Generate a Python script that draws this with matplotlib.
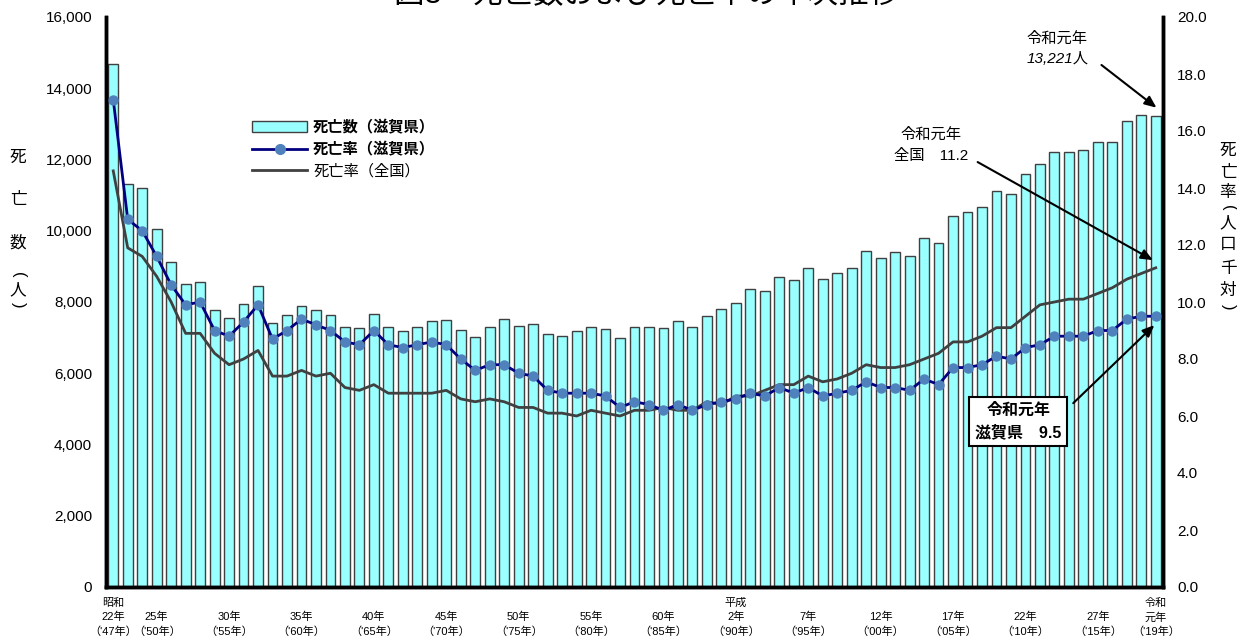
import numpy as np
import matplotlib.pyplot as plt
from matplotlib.patches import Patch
from matplotlib.lines import Line2D
from matplotlib.ticker import FuncFormatter

plt.rcParams['font.family'] = ['Liberation Sans', 'Noto Sans CJK JP']

years = np.arange(1947, 2020)

# deaths in Shiga (persons)
deaths = [14680, 11310, 11190, 10040, 9120, 8500, 8560, 7770, 7560, 7940,
          8450, 7400, 7630, 7900, 7770, 7640, 7310, 7270, 7650, 7290,
          7200, 7290, 7460, 7490, 7210, 7010, 7290, 7530, 7320, 7370,
          7090, 7040, 7190, 7290, 7250, 6980, 7290, 7310, 7260, 7480,
          7300, 7620, 7790, 7960, 8360, 8300, 8690, 8610, 8960, 8650,
          8800, 8960, 9430, 9240, 9390, 9280, 9810, 9670, 10420, 10520,
          10660, 11110, 11040, 11600, 11880, 12220, 12220, 12260, 12500, 12500,
          13080, 13240, 13221]

# death rate per 1,000 (Shiga)
rate_shiga = [17.1, 12.9, 12.5, 11.6, 10.6, 9.9, 10.0, 9.0, 8.8, 9.3,
              9.9, 8.7, 9.0, 9.4, 9.2, 9.0, 8.6, 8.5, 9.0, 8.5,
              8.4, 8.5, 8.6, 8.5, 8.0, 7.6, 7.8, 7.8, 7.5, 7.4,
              6.9, 6.8, 6.8, 6.8, 6.7, 6.3, 6.5, 6.4, 6.2, 6.4,
              6.2, 6.4, 6.5, 6.6, 6.8, 6.7, 7.0, 6.8, 7.0, 6.7,
              6.8, 6.9, 7.2, 7.0, 7.0, 6.9, 7.3, 7.1, 7.7, 7.7,
              7.8, 8.1, 8.0, 8.4, 8.5, 8.8, 8.8, 8.8, 9.0, 9.0,
              9.4, 9.5, 9.5]

# death rate per 1,000 (Japan)
rate_japan = [14.6, 11.9, 11.6, 10.9, 10.0, 8.9, 8.9, 8.2, 7.8, 8.0,
              8.3, 7.4, 7.4, 7.6, 7.4, 7.5, 7.0, 6.9, 7.1, 6.8,
              6.8, 6.8, 6.8, 6.9, 6.6, 6.5, 6.6, 6.5, 6.3, 6.3,
              6.1, 6.1, 6.0, 6.2, 6.1, 6.0, 6.2, 6.2, 6.3, 6.2,
              6.2, 6.5, 6.4, 6.7, 6.7, 6.9, 7.1, 7.1, 7.4, 7.2,
              7.3, 7.5, 7.8, 7.7, 7.7, 7.8, 8.0, 8.2, 8.6, 8.6,
              8.8, 9.1, 9.1, 9.5, 9.9, 10.0, 10.1, 10.1, 10.3, 10.5,
              10.8, 11.0, 11.2]

tick_years = [1947, 1950, 1955, 1960, 1965, 1970, 1975, 1980, 1985,
              1990, 1995, 2000, 2005, 2010, 2015, 2019]
tick_labels = ["昭和\n22年\n（'47年）", "\n25年\n（'50年）", "\n30年\n（'55年）",
               "\n35年\n（'60年）", "\n40年\n（'65年）", "\n45年\n（'70年）",
               "\n50年\n（'75年）", "\n55年\n（'80年）", "\n60年\n（'85年）",
               "平成\n2年\n（'90年）", "\n7年\n（'95年）", "\n12年\n（'00年）",
               "\n17年\n（'05年）", "\n22年\n（'10年）", "\n27年\n（'15年）",
               "令和\n元年\n（'19年）"]

bar_color = '#99FFFF'
edge_color = '#404040'
shiga_line = '#000080'
shiga_marker = '#4F81BD'
japan_line = '#404040'

fig = plt.figure(figsize=(12.37, 6.41), dpi=100)
ax = fig.add_axes([106/1237, 1 - 587/641, (1163 - 106)/1237, (587 - 17)/641])

ax.bar(years, deaths, width=0.68, color=bar_color, edgecolor=edge_color, linewidth=1)
ax.set_xlim(1946.5, 2019.5)
ax.set_ylim(0, 16000)
ax.set_yticks(np.arange(0, 16001, 2000))
ax.yaxis.set_major_formatter(FuncFormatter(lambda v, p: f'{v:,.0f}'))
ax.set_xticks(tick_years)
ax.set_xticklabels(tick_labels, fontsize=8, linespacing=1.45)
ax.tick_params(axis='y', length=0, pad=10, labelsize=11)
ax.tick_params(axis='x', length=0, pad=8)

ax2 = ax.twinx()
ax2.set_ylim(0, 20)
ax2.set_yticks(np.arange(0, 20.1, 2))
ax2.yaxis.set_major_formatter(FuncFormatter(lambda v, p: f'{v:.1f}'))
ax2.tick_params(axis='y', length=0, pad=10, labelsize=11)
ax2.plot(years, rate_japan, color=japan_line, lw=2)
ax2.plot(years, rate_shiga, color=shiga_line, lw=2, marker='o', ms=6.5,
         mfc=shiga_marker, mec=shiga_marker)

for a in (ax, ax2):
    a.spines['top'].set_visible(False)
    for s in ('left', 'bottom', 'right'):
        a.spines[s].set_color('black')
        a.spines[s].set_linewidth(2.5)

# legend
handles = [Patch(facecolor=bar_color, edgecolor=edge_color),
           Line2D([], [], color=shiga_line, lw=2, marker='o', ms=7,
                  mfc=shiga_marker, mec=shiga_marker),
           Line2D([], [], color=japan_line, lw=2)]
labels = ['死亡数（滋賀県）', '死亡率（滋賀県）', '死亡率（全国）']
leg = ax2.legend(handles, labels, loc='upper left',
                 bbox_to_anchor=(252/1237, 1 - 120/641), bbox_transform=fig.transFigure,
                 frameon=False, fontsize=11, handlelength=3.6, handletextpad=0.4,
                 labelspacing=0.45, borderpad=0, borderaxespad=0)
leg.get_texts()[0].set_fontweight('bold')
leg.get_texts()[0].set_fontstyle('italic')
leg.get_texts()[1].set_fontweight('bold')

# title (cut at the top edge)
fig.text(0.523, 1 + 6/641, '図3　死亡数および死亡率の年次推移',
         ha='center', va='center', fontsize=22)

# axis labels written vertically, brackets turned sideways
for ch, yp in zip(['死', '亡', '数', '人'], [157, 199, 243, 290]):
    fig.text(18/1237, 1 - yp/641, ch, ha='center', va='center', fontsize=12)
for ch, yp in zip(['(', ')'], [275, 305]):
    fig.text(18/1237, 1 - yp/641, ch, ha='center', va='center', fontsize=12,
             rotation=-90)

right_chars = ['死', '亡', '率', '(', '人', '口', '千', '対', ')']
right_y = [150, 172, 193, 208, 223, 245, 268, 290, 307]
for ch, yp in zip(right_chars, right_y):
    rot = -90 if ch in '()' else 0
    fig.text(1228/1237, 1 - yp/641, ch, ha='center', va='center', fontsize=12,
             rotation=rot)

arrow = dict(arrowstyle='-|>,head_length=0.7,head_width=0.3', color='black',
             lw=1.5, shrinkA=0, shrinkB=0)

# 2019 deaths
ax.text(2012.2, 15100, '令和元年\n13,221人', ha='center', va='center',
        fontsize=11, fontstyle='italic', linespacing=1.6)
ax.annotate('', xy=(2019.05, 13454), xytext=(2015.25, 14653), arrowprops=arrow)

# 2019 national rate
ax2.text(2003.5, 15.5, '令和元年\n全国　11.2', ha='center', va='center',
         fontsize=11, linespacing=1.6)
ax2.annotate('', xy=(2018.8, 11.47), xytext=(2006.7, 14.91), arrowprops=arrow)

# 2019 Shiga rate
ax2.text(2009.5, 5.81, '令和元年\n滋賀県　9.5', ha='center', va='center',
         fontsize=11.5, fontweight='bold', linespacing=1.5,
         bbox=dict(boxstyle='square,pad=0.35', facecolor='white',
                   edgecolor='black', lw=1.5))
ax2.annotate('', xy=(2018.9, 9.19), xytext=(2013.3, 6.45), arrowprops=arrow)

fig.savefig('out.png', dpi=100)
